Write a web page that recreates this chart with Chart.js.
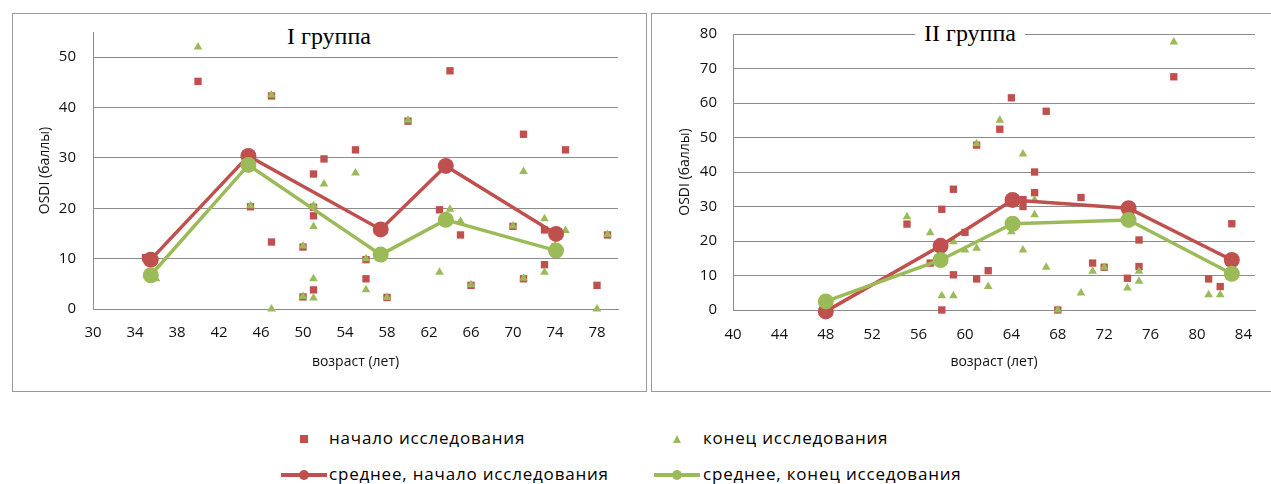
<!DOCTYPE html>
<html>
<head>
<meta charset="utf-8">
<script src="https://cdn.jsdelivr.net/npm/chart.js@4.4.0/dist/chart.umd.min.js"></script>
<style>
    body { margin: 0; background: #fff; width: 1271px; height: 484px; overflow: hidden; position: relative; font-family: 'Open Sans', 'Noto Sans', sans-serif; }
    .panel { position: absolute; border: 1px solid #9a9a9a; background: #fff; }
    .panel canvas { position: absolute; left: 0; top: 0; }
    .title { position: absolute; transform: translateX(-50%); background: #fff; padding: 0 9px; font-family: 'Liberation Serif', 'DejaVu Serif', serif; font-size: 24px; line-height: 28px; color: #000; white-space: nowrap; }
    .lg-text { position: absolute; font-size: 17px; letter-spacing: 0.8px; line-height: 20px; color: #000; white-space: nowrap; }
    .lg { position: absolute; }
</style>
</head>
<body>
<div class="panel" style="left:12px; top:13px; width:633px; height:377px;">
    <canvas id="chart1" width="633" height="377"></canvas>
    <div class="title" style="left:316px; top:8px;">I группа</div>
</div>
<div class="panel" style="left:651px; top:13px; width:636px; height:377px;">
    <canvas id="chart2" width="636" height="377"></canvas>
    <div class="title" style="left:318px; top:5px;">II группа</div>
</div>

<!-- legend -->
<div class="lg" style="left:300px; top:435px; width:8px; height:8px; background:#C0504D;"></div>
<div class="lg-text" style="left:329px; top:428px;">начало исследования</div>
<div class="lg" style="left:673px; top:435px; width:0; height:0; border-left:4.5px solid transparent; border-right:4.5px solid transparent; border-bottom:8px solid #9BBB59;"></div>
<div class="lg-text" style="left:703px; top:428px;">конец исследования</div>
<div class="lg" style="left:281px; top:473px; width:46px; height:4px; background:#C0504D;"></div>
<div class="lg" style="left:299px; top:470px; width:10px; height:10px; border-radius:50%; background:#C0504D;"></div>
<div class="lg-text" style="left:329px; top:464px;">среднее, начало исследования</div>
<div class="lg" style="left:654px; top:473px; width:46px; height:4px; background:#9BBB59;"></div>
<div class="lg" style="left:672px; top:470px; width:10px; height:10px; border-radius:50%; background:#9BBB59;"></div>
<div class="lg-text" style="left:703px; top:464px;">среднее, конец исседования</div>

<script>
// I группа
const ageStart1 = [35, 40, 45, 47, 47, 50, 50, 51, 51, 51, 51, 52, 55, 56, 56, 58, 60, 63, 64, 65, 66, 70, 71, 71, 73, 73, 74, 75, 78, 79];
const osdiStart1 = [10.2, 45.2, 20.3, 42.3, 13.3, 12.3, 2.4, 26.8, 20.2, 18.5, 3.8, 29.8, 31.6, 9.8, 6.0, 2.3, 37.3, 19.7, 47.3, 14.7, 4.7, 16.4, 34.7, 6.0, 15.7, 8.8, 12.3, 31.6, 4.7, 14.7];
const ageEnd1 = [36, 40, 45, 47, 47, 50, 50, 51, 51, 51, 51, 52, 55, 56, 56, 58, 60, 63, 64, 65, 66, 70, 71, 71, 73, 73, 74, 75, 78, 79];
const osdiEnd1 = [6.0, 52.0, 20.5, 42.5, 0, 12.5, 2.5, 20.5, 16.4, 6.0, 2.2, 24.8, 27.0, 10.0, 3.8, 2.3, 37.5, 7.3, 19.8, 17.4, 4.8, 16.5, 27.3, 6.1, 17.9, 7.3, 12.5, 15.6, 0, 14.8];
const ageMean1 = [35.5, 44.8, 57.4, 63.6, 74.1];
const osdiMeanStart1 = [9.8, 30.4, 15.8, 28.4, 14.9];
const osdiMeanEnd1 = [6.7, 28.6, 10.8, 17.7, 11.6];
const ageTicks1 = [30, 34, 38, 42, 46, 50, 54, 58, 62, 66, 70, 74, 78];
const osdiTicks1 = [0, 10, 20, 30, 40, 50];

// II группа
const ageStart2 = [48, 55, 57, 58, 58, 59, 59, 60, 61, 61, 62, 63, 64, 65, 65, 66, 66, 67, 68, 70, 71, 72, 74, 75, 75, 78, 81, 82, 83];
const osdiStart2 = [0, 24.9, 13.6, 29.2, 0, 35.0, 10.2, 22.5, 47.8, 9.0, 11.4, 52.4, 61.5, 32.0, 30.0, 40.0, 34.0, 57.6, 0, 32.6, 13.6, 12.4, 9.2, 20.3, 12.6, 67.6, 9.0, 6.8, 25.0];
const ageEnd2 = [48, 55, 57, 58, 59, 59, 60, 61, 61, 62, 63, 64, 65, 65, 66, 66, 67, 68, 70, 71, 72, 74, 75, 75, 78, 81, 82];
const osdiEnd2 = [2.5, 27.0, 22.4, 4.1, 19.8, 4.1, 17.4, 48.2, 17.9, 6.8, 55.0, 22.7, 45.2, 17.4, 31.9, 27.6, 12.4, 0, 4.9, 11.2, 12.4, 6.4, 11.2, 8.3, 77.7, 4.4, 4.4];
const ageMean2 = [48, 57.9, 64.1, 74.1, 83];
const osdiMeanStart2 = [-0.4, 18.6, 31.9, 29.5, 14.5];
const osdiMeanEnd2 = [2.5, 14.5, 25.0, 26.1, 10.5];
const ageTicks2 = [40, 44, 48, 52, 56, 60, 64, 68, 72, 76, 80, 84];
const osdiTicks2 = [0, 10, 20, 30, 40, 50, 60, 70, 80];

const red = '#C0504D';
const green = '#9BBB59';
const gridColor = '#8c8c8c';
const textColor = '#111';
const tickFont = { family: "'Open Sans', 'Noto Sans', sans-serif", size: 15 };
const titleFont = { family: "'Open Sans', 'Noto Sans', sans-serif", size: 14 };

function points(xs, ys) {
    return xs.map((x, i) => ({ x: x, y: ys[i] }));
}

function createGroupChart(id, d, s) {
    const ctx = document.getElementById(id).getContext('2d');
    new Chart(ctx, {
        type: 'scatter',
        data: {
            datasets: [
                {
                    label: 'среднее, конец исседования',
                    data: points(d.ageMean, d.meanEnd),
                    showLine: true,
                    borderColor: green,
                    borderWidth: 3.5,
                    pointRadius: 8,
                    pointBackgroundColor: green,
                    pointBorderWidth: 0,
                    clip: false,
                    order: 0
                },
                {
                    label: 'среднее, начало исследования',
                    data: points(d.ageMean, d.meanStart),
                    showLine: true,
                    borderColor: red,
                    borderWidth: 3.5,
                    pointRadius: 8,
                    pointBackgroundColor: red,
                    pointBorderWidth: 0,
                    clip: false,
                    order: 1
                },
                {
                    label: 'конец исследования',
                    data: points(d.ageEnd, d.osdiEnd),
                    pointStyle: 'triangle',
                    pointRadius: 5,
                    backgroundColor: green,
                    borderWidth: 0,
                    clip: false,
                    order: 2
                },
                {
                    label: 'начало исследования',
                    data: points(d.ageStart, d.osdiStart),
                    pointStyle: 'rect',
                    pointRadius: 5.2,
                    backgroundColor: red,
                    borderWidth: 0,
                    clip: false,
                    order: 3
                }
            ]
        },
        options: {
            responsive: false,
            animation: false,
            layout: { padding: s.padding },
            plugins: {
                legend: { display: false },
                tooltip: { enabled: false }
            },
            scales: {
                x: {
                    type: 'linear',
                    min: s.xMin,
                    max: s.xMax,
                    afterBuildTicks: scale => { scale.ticks = d.ageTicks.map(v => ({ value: v })); },
                    afterFit: scale => { scale.height = s.xHeight; },
                    // tick marks are invisible, their length only spaces the labels
                    grid: { display: false, drawTicks: true, tickLength: s.xTickLen, tickColor: 'rgba(0,0,0,0)' },
                    border: { display: true, color: gridColor, width: 1 },
                    ticks: { padding: 0, font: tickFont, color: textColor, maxRotation: 0 },
                    title: { display: true, text: 'возраст (лет)', font: titleFont, color: textColor, padding: { top: 0, bottom: 21 } }
                },
                y: {
                    min: 0,
                    max: s.yMax,
                    afterBuildTicks: scale => { scale.ticks = d.osdiTicks.map(v => ({ value: v })); },
                    afterFit: scale => { scale.width = s.yWidth; },
                    grid: { color: gridColor, drawTicks: true, tickLength: s.yTickLen, tickColor: 'rgba(0,0,0,0)' },
                    border: { display: true, color: gridColor, width: 1 },
                    ticks: { padding: 0, font: tickFont, color: textColor },
                    title: { display: true, text: 'OSDI (баллы)', font: titleFont, color: textColor, padding: { top: s.yTitlePad, bottom: 0 } }
                }
            }
        }
    });
}

createGroupChart('chart1', {
    ageStart: ageStart1, osdiStart: osdiStart1, ageEnd: ageEnd1, osdiEnd: osdiEnd1,
    ageMean: ageMean1, meanStart: osdiMeanStart1, meanEnd: osdiMeanEnd1,
    ageTicks: ageTicks1, osdiTicks: osdiTicks1
}, {
    xMin: 30, xMax: 80, yMax: 55,
    padding: { top: 18, right: 28, left: 0, bottom: 0 },
    xHeight: 82, yWidth: 80, xTickLen: 15, yTickLen: 17, yTitlePad: 23.5
});

createGroupChart('chart2', {
    ageStart: ageStart2, osdiStart: osdiStart2, ageEnd: ageEnd2, osdiEnd: osdiEnd2,
    ageMean: ageMean2, meanStart: osdiMeanStart2, meanEnd: osdiMeanEnd2,
    ageTicks: ageTicks2, osdiTicks: osdiTicks2
}, {
    xMin: 40, xMax: 85, yMax: 80,
    padding: { top: 20, right: 33, left: 0, bottom: 0 },
    xHeight: 81, yWidth: 81, xTickLen: 16, yTickLen: 16, yTitlePad: 24.5
});
</script>
</body>
</html>
